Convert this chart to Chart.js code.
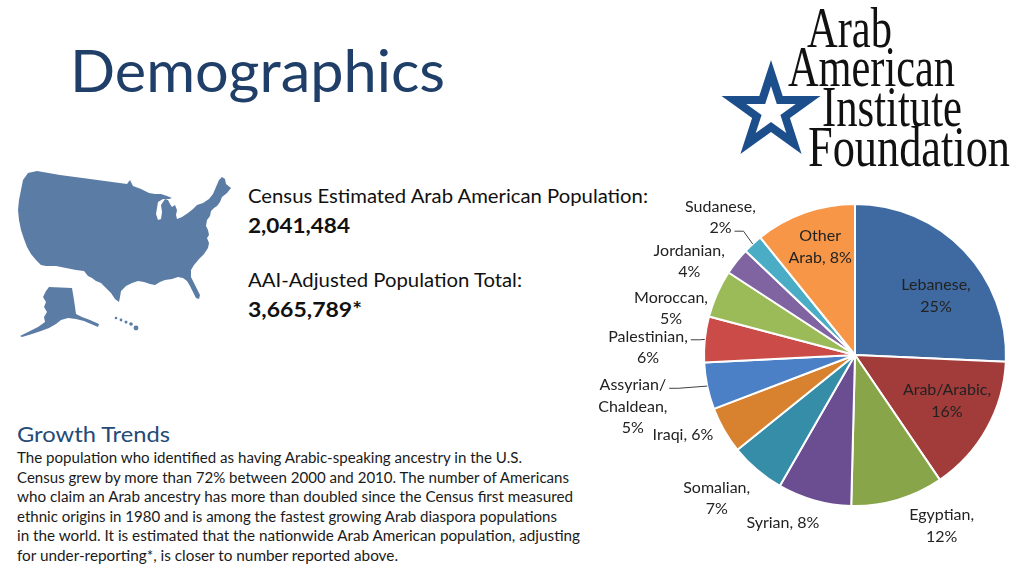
<!DOCTYPE html>
<html>
<head>
<meta charset="utf-8">
<script src="https://cdn.jsdelivr.net/npm/chart.js@4.4.1/dist/chart.umd.min.js"></script>
<style>
html,body{margin:0;padding:0;background:#fff;width:1024px;height:571px;overflow:hidden;}
#slide{position:relative;width:1024px;height:571px;}
#art{position:absolute;left:0;top:0;}
#pie{position:absolute;left:0;top:0;}
</style>
</head>
<body>
<div id="slide">
<svg id="art" width="1024" height="571" viewBox="0 0 1024 571" xmlns="http://www.w3.org/2000/svg">
  <text x="70" y="92" font-family="Lato" font-size="58" fill="#1f3f68" textLength="375" lengthAdjust="spacingAndGlyphs">Demographics</text>

  <g id="star"></g>
  <g font-family="Liberation Serif" font-size="56" fill="#111">
    <text x="807" y="47" textLength="85" lengthAdjust="spacingAndGlyphs">Arab</text>
    <text x="788" y="86" textLength="167" lengthAdjust="spacingAndGlyphs">American</text>
    <text x="822" y="126" textLength="140" lengthAdjust="spacingAndGlyphs">Institute</text>
    <text x="808" y="166" textLength="202" lengthAdjust="spacingAndGlyphs">Foundation</text>
  </g>

  <g fill="#5a7ca5">
    <path d="M28,173 L37,171 L60,175 L90,179 L127,184 L130,180 L133,186 L141,189 L149,193 L155,194 L161,194 L167,196 L172,198 L169,199 L163,199 L158,202 L157,208 L156,214 L158,220 L161,219 L162,212 L161,205 L165,199 L168,200 L170,204 L172,207 L175,205 L177,210 L176,215 L177,219 L182,217 L188,213 L193,209 L197,205 L203,203 L209,199 L213,194 L216,187 L219,180 L222,177 L225,179 L226,184 L231,188 L227,193 L222,197 L220,202 L217,206 L214,208 L211,211 L210,216 L207,220 L206,226 L208,230 L209,235 L207,238 L209,243 L208,248 L204,254 L199,259 L194,265 L191,270 L191,277 L194,283 L197,289 L200,295 L199,299 L196,298 L193,292 L190,286 L187,281 L183,278 L178,277 L172,279 L165,280 L160,282 L155,285 L150,284 L144,282 L138,281 L132,283 L126,286 L121,291 L120,297 L119,302 L115,299 L111,293 L106,288 L101,283 L96,281 L92,278 L88,276 L84,271 L76,270 L66,268 L56,266 L46,266 L41,265 L36,260 L31,254 L27,247 L24,239 L21,230 L19,220 L18,210 L19,200 L21,190 L23,180 Z"/>
    <path d="M49,287 L72,288 L74,300 L76,314 L82,317 L90,320 L99,324 L98,327 L91,324 L84,321 L76,319 L68,318 L61,320 L56,324 L49,328 L41,331 L32,334 L22,337 L20,336 L30,331 L38,327 L45,322 L44,317 L47,312 L44,307 L46,302 L43,297 L46,291 Z"/>
    <circle cx="116" cy="318" r="1.3"/>
    <circle cx="121" cy="320" r="1.4"/>
    <circle cx="126" cy="322" r="1.5"/>
    <circle cx="131" cy="324" r="1.8"/>
    <circle cx="136" cy="328" r="2.4"/>
  </g>

  <g font-family="Lato" fill="#111">
    <text x="248" y="203" font-size="19.5" textLength="400" lengthAdjust="spacingAndGlyphs">Census Estimated Arab American Population:</text>
    <text x="248" y="233" font-size="20" font-weight="700" textLength="102" lengthAdjust="spacingAndGlyphs">2,041,484</text>
    <text x="248" y="287" font-size="19.5" textLength="274" lengthAdjust="spacingAndGlyphs">AAI-Adjusted Population Total:</text>
    <text x="248" y="317" font-size="20" font-weight="700" textLength="114" lengthAdjust="spacingAndGlyphs">3,665,789*</text>
  </g>

  <text x="17" y="442" font-family="Lato" font-size="21" fill="#244a78" textLength="153" lengthAdjust="spacingAndGlyphs">Growth Trends</text>
  <g font-family="Lato" font-size="14.5" fill="#1a1a1a">
    <text x="17" y="463" textLength="505" lengthAdjust="spacingAndGlyphs">The population who identified as having Arabic-speaking ancestry in the U.S.</text>
    <text x="17" y="482.5" textLength="552" lengthAdjust="spacingAndGlyphs">Census grew by more than 72% between 2000 and 2010. The number of Americans</text>
    <text x="17" y="502" textLength="556" lengthAdjust="spacingAndGlyphs">who claim an Arab ancestry has more than doubled since the Census first measured</text>
    <text x="17" y="521.5" textLength="540" lengthAdjust="spacingAndGlyphs">ethnic origins in 1980 and is among the fastest growing Arab diaspora populations</text>
    <text x="17" y="541" textLength="563" lengthAdjust="spacingAndGlyphs">in the world. It is estimated that the nationwide Arab American population, adjusting</text>
    <text x="17" y="560.5" textLength="381" lengthAdjust="spacingAndGlyphs">for under-reporting*, is closer to number reported above.</text>
  </g>
</svg>
<canvas id="pie" width="1024" height="571"></canvas>
</div>

<script>
// ---- data ----
const categories = ['Lebanese','Arab/Arabic','Egyptian','Syrian','Somalian','Iraqi','Assyrian/Chaldean','Palestinian','Moroccan','Jordanian','Sudanese','Other Arab'];
const shareValues = [25.7, 14.8, 9.9, 7.9, 5.9, 5.0, 5.0, 4.9, 5.1, 2.9, 2.1, 10.8];
const labelPercents = [25, 16, 12, 8, 7, 6, 5, 6, 5, 4, 2, 8];

// ---- styles ----
const sliceColors = ['#3e6aa1','#a23c3b','#89a54a','#6b4e92','#368da7','#d8822f','#4c80c6','#ca4b48','#9bbb59','#8064a2','#4bacc6','#f79646'];
const labelWrap = ['two','two','two','one','two','one','split3','two','two','two','two','split2'];
const labelPlace = [
  {rf:0.667, da:7.3},
  {rf:0.678, da:-3.1},
  {rf:1.265, da:-10.6},
  {rf:1.205, da:7.7},
  {rf:1.316, da:3.6},
  {rf:1.254, da:5.2},
  {rf:1.509, da:-1.0, leader:0},
  {rf:1.372, da:-3.6, leader:0},
  {rf:1.258, da:-9.5},
  {rf:1.263, da:-8.7},
  {rf:1.279, da:-1.5, leader:1},
  {rf:0.758, da:1.7}
];

function labelLines(i){
  const name = categories[i], pct = labelPercents[i] + '%';
  switch(labelWrap[i]){
    case 'one': return [name + ', ' + pct];
    case 'split3': { const p = name.split('/'); return [p[0] + '/', p[1] + ',', pct]; }
    case 'split2': { const p = name.split(' '); return [p[0], p[1] + ', ' + pct]; }
    default: return [name + ',', pct];
  }
}

// star logo (decorative)
(function(){
  const cx = 771, cy = 112, R = 52, r = R * 0.382;
  function pts(scale){
    const out = [];
    for (let k = 0; k < 10; k++){
      const rad = (k % 2 === 0 ? R : r) * scale;
      const a = -Math.PI/2 + k * Math.PI/5;
      out.push((cx + rad*Math.cos(a)).toFixed(1) + ',' + (cy + rad*Math.sin(a)).toFixed(1));
    }
    return out.join(' ');
  }
  const g = document.getElementById('star');
  g.innerHTML = '<polygon points="' + pts(1) + '" fill="#1d4e8c"/><polygon points="' + pts(0.5) + '" fill="#ffffff"/>';
})();

const pieLabels = {
  id: 'pieLabels',
  afterDatasetsDraw(chart, args, opts){
    const ctx = chart.ctx;
    const meta = chart.getDatasetMeta(0);
    ctx.save();
    ctx.font = opts.font;
    ctx.fillStyle = opts.color;
    ctx.textAlign = 'center';
    ctx.textBaseline = 'alphabetic';
    meta.data.forEach((arc, i) => {
      const p = arc.getProps(['x','y','startAngle','endAngle','outerRadius'], true);
      const mid = (p.startAngle + p.endAngle) / 2;
      const place = opts.place[i];
      const a = mid + place.da * Math.PI / 180;
      const lx = p.x + place.rf * p.outerRadius * Math.cos(a);
      const ly = p.y + place.rf * p.outerRadius * Math.sin(a);
      const lines = labelLines(i);
      const lh = opts.lineHeight;
      const y0 = ly - (lines.length - 1) * lh / 2;
      lines.forEach((t, k) => ctx.fillText(t, lx, y0 + k * lh + opts.baselineShift));
      if (place.leader !== undefined){
        const k = place.leader;
        const w = ctx.measureText(lines[k]).width;
        const sx = lx + w/2 + 3, sy = y0 + k*lh + 4;
        const ex = p.x + p.outerRadius * Math.cos(mid), ey = p.y + p.outerRadius * Math.sin(mid);
        ctx.beginPath();
        ctx.moveTo(sx, sy);
        ctx.lineTo(sx + 9, sy);
        ctx.lineTo(ex, ey);
        ctx.strokeStyle = opts.leaderColor;
        ctx.lineWidth = 1;
        ctx.stroke();
      }
    });
    ctx.restore();
  }
};

new Chart(document.getElementById('pie'), {
  type: 'pie',
  data: {
    labels: categories,
    datasets: [{
      data: shareValues,
      backgroundColor: sliceColors,
      borderColor: '#ffffff',
      borderWidth: 2
    }]
  },
  options: {
    responsive: false,
    animation: false,
    layout: { padding: { left: 703, top: 203, right: 17, bottom: 64 } },
    plugins: {
      legend: { display: false },
      tooltip: { enabled: false },
      pieLabels: {
        font: '16px Lato',
        color: '#222222',
        lineHeight: 21.5,
        baselineShift: 6,
        leaderColor: '#404040',
        place: labelPlace
      }
    }
  },
  plugins: [pieLabels]
});
</script>
</body>
</html>
